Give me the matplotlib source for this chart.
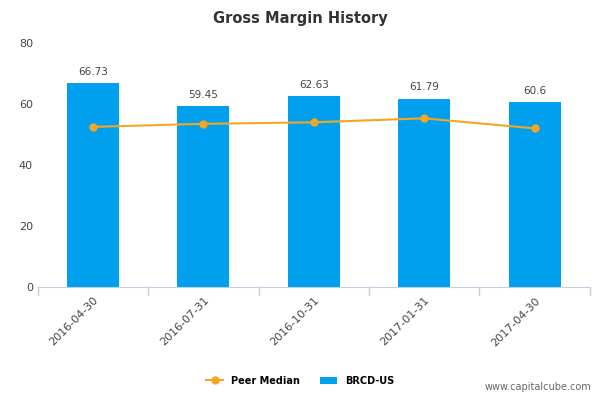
import matplotlib
matplotlib.use("Agg")
import matplotlib.pyplot as plt

categories = ["2016-04-30", "2016-07-31", "2016-10-31", "2017-01-31", "2017-04-30"]
brcd = [66.73, 59.45, 62.63, 61.79, 60.6]
brcd_labels = ["66.73", "59.45", "62.63", "61.79", "60.6"]
peer = [52.5, 53.5, 54.0, 55.3, 52.0]
yticks = [0, 20, 40, 60, 80]

fig = plt.figure(figsize=(6, 4), dpi=100)
ax = fig.add_axes([0.063, 0.2825, 0.92, 0.61])
x = range(len(categories))
ax.bar(x, brcd, width=0.47, color="#00a0ef", zorder=2, label="BRCD-US")
for i, (v, l) in enumerate(zip(brcd, brcd_labels)):
    ax.text(i, v + 2, l, ha="center", va="bottom", fontsize=7.5, color="#444444")
ax.plot(x, peer, color="#f5a623", marker="o", markersize=5, linewidth=1.5, zorder=3, label="Peer Median")
ax.set_xlim(-0.5, 4.5)
ax.set_ylim(0, 80)
ax.set_yticks(yticks)
ax.set_xticks(list(x))
ax.set_xticklabels(categories, rotation=45, ha="right", rotation_mode="anchor", fontsize=8, color="#444444")
ax.tick_params(axis="y", length=0, labelsize=8, labelcolor="#444444")
ax.tick_params(axis="x", length=0, pad=6)
for s in ["top", "right", "left"]:
    ax.spines[s].set_visible(False)
ax.spines["bottom"].set_color("#c0d0e0")
for b in [-0.5, 0.5, 1.5, 2.5, 3.5, 4.5]:
    ax.plot([b, b], [0, -2.5], color="#c0d0e0", lw=1, clip_on=False)
fig.text(0.5, 0.955, "Gross Margin History", ha="center", va="center", fontsize=10.5, fontweight="bold", color="#333333")
fig.legend(loc="center", bbox_to_anchor=(0.5, 0.048), ncol=2, frameon=False, fontsize=7,
           prop={"weight": "bold", "size": 7}, handlelength=1.8)
fig.text(0.985, 0.02, "www.capitalcube.com", ha="right", va="bottom", fontsize=7, color="#666666")
fig.savefig("out.png", dpi=100)
